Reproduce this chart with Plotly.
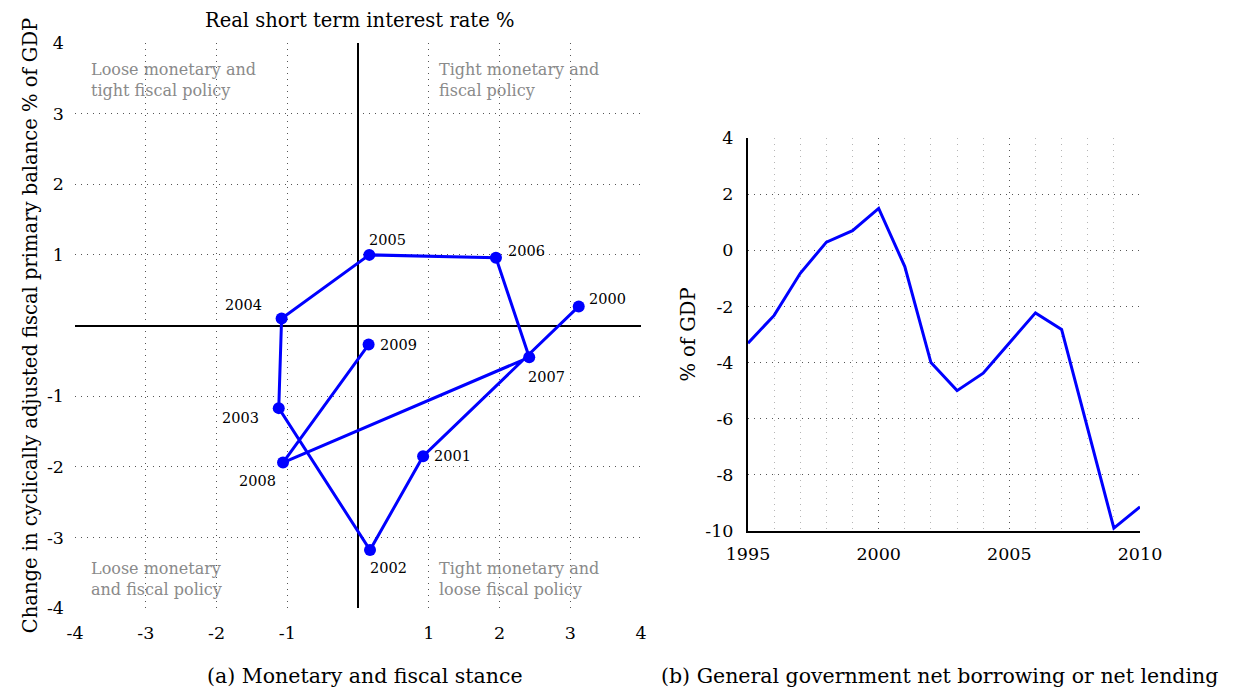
import plotly.graph_objects as go

# Panel (a): monetary and fiscal stance, 2000-2009
stance_years = [2000, 2001, 2002, 2003, 2004, 2005, 2006, 2007, 2008, 2009]
real_rate = [3.12, 0.92, 0.17, -1.12, -1.08, 0.16, 1.95, 2.42, -1.06, 0.15]
fiscal_change = [0.27, -1.85, -3.18, -1.17, 0.10, 1.00, 0.96, -0.45, -1.94, -0.27]

# Panel (b): general government net borrowing / lending, % of GDP
balance_years = list(range(1995, 2011))
net_lending = [-3.31, -2.32, -0.82, 0.29, 0.70, 1.49, -0.58, -4.0, -5.0, -4.38,
               -3.3, -2.23, -2.82, -6.4, -9.9, -9.14]

stance_ticks = [-4, -3, -2, -1, 1, 2, 3, 4]
balance_yticks = [4, 2, 0, -2, -4, -6, -8, -10]
balance_xticks = [1995, 2000, 2005, 2010]

quadrant_notes = [
    ("Loose monetary and<br>tight fiscal policy", -3.8, 3.47),
    ("Tight monetary and<br>fiscal policy", 1.12, 3.47),
    ("Loose monetary<br>and fiscal policy", -3.8, -3.59),
    ("Tight monetary and<br>loose fiscal policy", 1.12, -3.59),
]

# label placement around each point: (xanchor, yanchor, xshift, yshift)
label_place = {
    2000: ("left", "middle", 8, 7),
    2001: ("left", "middle", 9, 0),
    2002: ("left", "top", -2, -8),
    2003: ("right", "top", -18, 0),
    2004: ("right", "bottom", -18, 3),
    2005: ("left", "bottom", -2, 5),
    2006: ("left", "middle", 10, 7),
    2007: ("left", "top", -3, -10),
    2008: ("right", "top", -5, -8),
    2009: ("left", "middle", 9, 0),
}

FONT = "DejaVu Serif"
BLUE = "#0000ff"
GRID_DARK = "#555555"
GRID_LIGHT = "#b5b5b5"
DOTS = "1px,5px"


def minus(v):
    return str(v).replace("\u2212", "-")


fig = go.Figure()

fig.add_trace(go.Scatter(
    x=real_rate, y=fiscal_change, mode="lines+markers",
    line=dict(color=BLUE, width=3),
    marker=dict(color=BLUE, size=12),
    xaxis="x", yaxis="y", showlegend=False, hoverinfo="skip",
))

fig.add_trace(go.Scatter(
    x=balance_years, y=net_lending, mode="lines",
    line=dict(color=BLUE, width=3),
    xaxis="x2", yaxis="y2", showlegend=False, hoverinfo="skip",
))

annotations = []
for yr, xv, yv in zip(stance_years, real_rate, fiscal_change):
    xa, ya, xs, ys = label_place[yr]
    annotations.append(dict(
        x=xv, y=yv, xref="x", yref="y", text=str(yr), showarrow=False,
        xanchor=xa, yanchor=ya, xshift=xs, yshift=ys,
        font=dict(family=FONT, size=14.5, color="black"),
    ))

for txt, xv, yv in quadrant_notes:
    annotations.append(dict(
        x=xv, y=yv, xref="x", yref="y", text=txt, showarrow=False,
        xanchor="left", yanchor="middle", align="left",
        font=dict(family=FONT, size=16, color="#8a8a8a"),
    ))

annotations += [
    dict(x=359 / 1243, y=1 - 20 / 691, xref="paper", yref="paper",
         text="Real short term interest rate %", showarrow=False,
         xanchor="center", yanchor="middle",
         font=dict(family=FONT, size=19.5, color="black")),
    dict(x=365 / 1243, y=1 - 676 / 691, xref="paper", yref="paper",
         text="(a) Monetary and fiscal stance", showarrow=False,
         xanchor="center", yanchor="middle",
         font=dict(family=FONT, size=20.5, color="black")),
    dict(x=940 / 1243, y=1 - 676 / 691, xref="paper", yref="paper",
         text="(b) General government net borrowing or net lending", showarrow=False,
         xanchor="center", yanchor="middle",
         font=dict(family=FONT, size=20.5, color="black")),
]

tick_font = dict(family=FONT, size=17.5, color="black")

fig.update_layout(
    width=1243, height=691,
    margin=dict(l=0, r=0, t=0, b=0),
    paper_bgcolor="white", plot_bgcolor="white",
    font=dict(family=FONT, size=17, color="black"),
    annotations=annotations,
    xaxis=dict(
        domain=[75 / 1243, 641 / 1243], anchor="y", automargin=False,
        range=[-4, 4], tickvals=stance_ticks,
        ticktext=[str(v) for v in stance_ticks],
        showgrid=True, gridcolor=GRID_DARK, griddash=DOTS, gridwidth=1,
        zeroline=True, zerolinecolor="black", zerolinewidth=2,
        showline=False, ticks="", ticklabelstandoff=12,
        tickfont=tick_font,
    ),
    yaxis=dict(
        domain=[1 - 608 / 691, 1 - 43 / 691], anchor="x", automargin=False,
        range=[-4, 4], tickvals=stance_ticks,
        ticktext=[str(v) for v in stance_ticks],
        showgrid=True, gridcolor=GRID_DARK, griddash=DOTS, gridwidth=1,
        zeroline=True, zerolinecolor="black", zerolinewidth=2,
        showline=False, ticks="", ticklabelstandoff=10,
        tickfont=tick_font,
        title=dict(text="Change in cyclically adjusted fiscal primary balance % of GDP",
                   font=dict(family=FONT, size=19.5), standoff=4),
    ),
    xaxis2=dict(
        domain=[748 / 1243, 1140 / 1243], anchor="y2", automargin=False,
        range=[1995, 2010], tickvals=balance_xticks,
        ticktext=[str(v) for v in balance_xticks],
        showgrid=True, gridcolor=GRID_DARK, griddash=DOTS, gridwidth=1,
        minor=dict(dtick=1, showgrid=True, gridcolor=GRID_LIGHT,
                   griddash=DOTS, gridwidth=1, ticks=""),
        zeroline=False, showline=True, linecolor="black", linewidth=2,
        ticks="", ticklabelstandoff=6,
        tickfont=tick_font,
    ),
    yaxis2=dict(
        domain=[1 - 531 / 691, 1 - 138 / 691], anchor="x2", automargin=False,
        range=[-10, 4], tickvals=balance_yticks,
        ticktext=[minus(v) for v in balance_yticks],
        showgrid=True, gridcolor=GRID_DARK, griddash=DOTS, gridwidth=1,
        zeroline=False, showline=True, linecolor="black", linewidth=2,
        ticks="", ticklabelstandoff=9,
        tickfont=tick_font,
        title=dict(text="% of GDP", font=dict(family=FONT, size=19.5), standoff=4),
    ),
)

fig.write_html("out.html")
